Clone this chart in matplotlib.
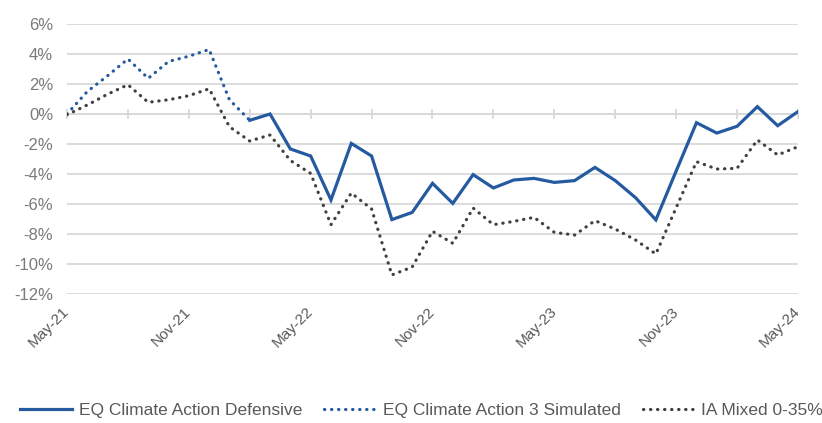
import matplotlib
matplotlib.use('Agg')
import matplotlib.pyplot as plt
import numpy as np

plt.rcParams['font.family'] = ['Liberation Sans', 'DejaVu Sans']

# Índices mensais: 0 = May-21 ... 36 = May-24
meses_rotulos = ['May-21', 'Nov-21', 'May-22', 'Nov-22', 'May-23', 'Nov-23', 'May-24']

# EQ Climate Action 3 Simulated (May-21 a Feb-22)
simulado = [0.0, 1.5, 2.55, 3.67, 2.38, 3.5, 3.85, 4.3, 0.95, -0.42]

# EQ Climate Action Defensive (Feb-22 a May-24)
defensivo = [-0.42, 0.0, -2.33, -2.8, -5.73, -1.96, -2.8, -7.04, -6.56,
             -4.62, -5.96, -4.04, -4.93, -4.4, -4.29, -4.56, -4.44, -3.56,
             -4.44, -5.58, -7.06, -3.8, -0.58, -1.27, -0.82, 0.49, -0.78, 0.16]

# IA Mixed 0-35%
ia_mixed = [-0.05, 0.6, 1.32, 1.95, 0.78, 0.95, 1.22, 1.68, -0.85, -1.8,
            -1.4, -3.1, -3.96, -7.38, -5.27, -6.33, -10.73, -10.2,
            -7.82, -8.62, -6.27, -7.38, -7.16, -6.89, -7.89, -8.07, -7.11,
            -7.67, -8.4, -9.33, -6.25, -3.18, -3.67, -3.62, -1.73, -2.73, -2.18]

azul = '#255aa0'
cinza_grade = '#d9d9d9'
cinza_texto = '#7a7a7a'

x_sim = np.arange(len(simulado))
x_def = np.arange(len(simulado) - 1, len(simulado) - 1 + len(defensivo))
x_ia = np.arange(len(ia_mixed))

fig = plt.figure(figsize=(8.22, 4.23), dpi=100)
ax = fig.add_axes([67 / 822, 1 - 294 / 423, (798 - 67) / 822, (294 - 24) / 423])

pontilhado = (0, (0.1, 2.1))
l1, = ax.plot(x_def, defensivo, color=azul, lw=2.3, solid_joinstyle='miter',
              label='EQ Climate Action Defensive', zorder=4)
l2, = ax.plot(x_sim, simulado, color=azul, lw=2.3, ls=pontilhado,
              dash_capstyle='round', label='EQ Climate Action 3 Simulated', zorder=3)
l3, = ax.plot(x_ia, ia_mixed, color='#404040', lw=2.3, ls=pontilhado,
              dash_capstyle='round', label='IA Mixed 0-35%', zorder=3)

ax.set_xlim(0, 36)
ax.set_ylim(-12, 6)
ax.set_yticks(np.arange(-12, 7, 2))
ax.set_yticklabels([f'{v}%' for v in range(-12, 7, 2)])
ax.yaxis.grid(True, color=cinza_grade, lw=1.3)
ax.set_axisbelow(True)
ax.tick_params(axis='y', length=0, pad=10, labelsize=12, labelcolor=cinza_texto)

for lado in ['top', 'right', 'left']:
    ax.spines[lado].set_visible(False)

# eixo horizontal cruzando no zero, com marcas a cada 3 meses
ax.spines['bottom'].set_position(('data', 0))
ax.spines['bottom'].set_color(cinza_grade)
ax.spines['bottom'].set_linewidth(1.3)
ax.set_xticks(np.arange(0, 37, 3))
ax.tick_params(axis='x', direction='inout', length=7, width=1.3, color=cinza_grade,
               labelbottom=False)

sec = ax.secondary_xaxis('bottom')
sec.set_xticks(np.arange(0, 37, 6))
sec.set_xticklabels(meses_rotulos, rotation=45, ha='right', va='center',
                    rotation_mode='anchor')
sec.tick_params(length=0, pad=11, labelsize=11, labelcolor='#595959')
sec.spines['bottom'].set_visible(False)

fig.legend(handles=[l1, l2, l3], loc='lower center', bbox_to_anchor=(0.513, -0.025),
           ncol=3, frameon=False, fontsize=12.5, handlelength=3.0, columnspacing=1.3,
           handletextpad=0.35, labelcolor='#595959')

plt.savefig('out.png', dpi=100)
